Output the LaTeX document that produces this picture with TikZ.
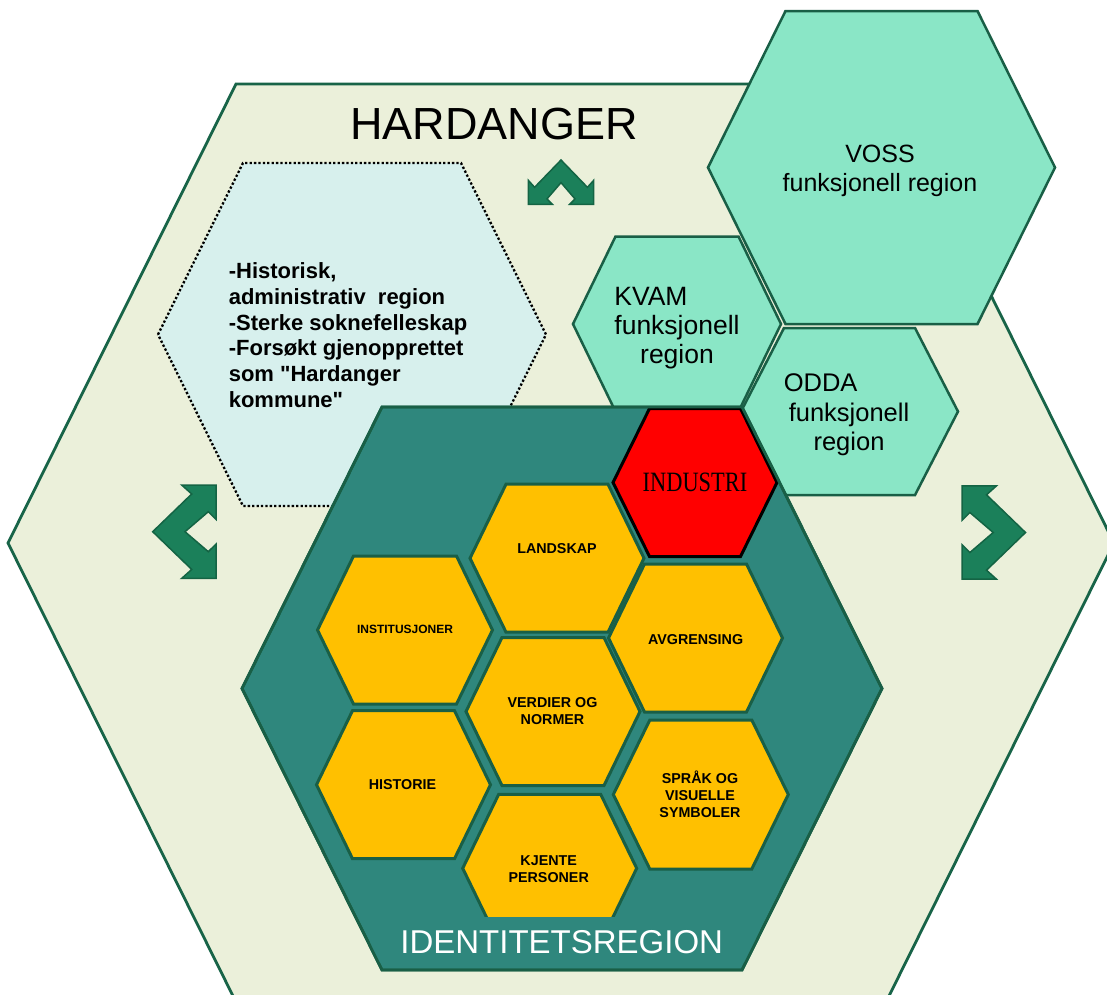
\documentclass[tikz,border=0pt]{standalone}
\usepackage{fontspec}
\setmainfont{Liberation Sans}
\newfontfamily\serifx{Liberation Serif}
\newcommand{\sq}{\XeTeXglyph\XeTeXcharglyph"22\relax}
\definecolor{bgc}{RGB}{235,240,218}
\definecolor{bgborder}{RGB}{24,100,72}
\definecolor{dotfill}{RGB}{215,240,237}
\definecolor{mintc}{RGB}{138,230,198}
\definecolor{tealc}{RGB}{47,135,125}
\definecolor{yellowc}{RGB}{255,192,0}
\definecolor{hexborder}{RGB}{25,95,70}
\definecolor{arrowfill}{RGB}{27,128,90}
\definecolor{arrowborder}{RGB}{20,100,68}
\newcommand{\hexp}[5]{({#1-#3},{#2}) -- ({#1-#4},{#2-#5}) -- ({#1+#4},{#2-#5}) -- ({#1+#3},{#2}) -- ({#1+#4},{#2+#5}) -- ({#1-#4},{#2+#5}) -- cycle}
\begin{document}
\begin{tikzpicture}[x=1pt,y=-1pt,
  bighex/.style={fill=bgc,draw=bgborder,line width=2.8pt,line join=miter},
  dothex/.style={fill=dotfill,draw=black,line width=2.3pt,dash pattern=on 2.3pt off 2.1pt},
  minthex/.style={fill=mintc,draw=hexborder,line width=2.5pt,line join=miter},
  tealhex/.style={fill=tealc,draw=hexborder,line width=2.8pt,line join=miter},
  yhex/.style={fill=yellowc,draw=hexborder,line width=3pt,line join=miter},
  redhex/.style={fill=red,draw=black,line width=3pt,line join=miter},
  arrowsty/.style={fill=arrowfill,draw=arrowborder,line width=1.5pt,line join=miter},
  ylab/.style={font=\bfseries\fontsize{14.3}{17}\selectfont,align=center,inner sep=0pt},
  mintlab/.style={align=center,inner sep=0pt}]
\clip (0,0) rectangle (1107,994);
\fill[white] (0,0) rectangle (1107,994);
% big Hardanger hexagon
\filldraw[bighex] \hexp{561}{543}{553}{325}{459};
\node[inner sep=0pt,font=\fontsize{45}{54}\selectfont] (hardanger) at (494,124) {HARDANGER};
% dotted hexagon
\filldraw[dothex] \hexp{352}{334.5}{194}{109}{171.5};
\node[anchor=west,align=left,inner sep=0pt,font=\bfseries\fontsize{22}{25.7}\selectfont] (hinfo) at (228.6,335)
  {-Historisk,\\administrativ\ \ region\\-Sterke soknefelleskap\\-Forsøkt gjenopprettet\\som \sq Hardanger\\kommune\sq};
% arrows
\draw[arrowsty] (561,160) -- (534.6,187.3) -- (528.3,180.3) -- (528.3,204.3) -- (552.3,204.3) -- (547,198.9) -- (561,182.6) -- (575,198.9) -- (569.7,204.3) -- (593.7,204.3) -- (593.7,180.3) -- (587.4,187.3) -- cycle;
\draw[arrowsty] (152.7,531.7) -- (191.7,494) -- (181.7,485) -- (216,485) -- (216,519.3) -- (208.3,511.7) -- (185,531.7) -- (208.3,551.7) -- (216,544.1) -- (216,578.4) -- (181.7,578.4) -- (191.7,569.4) -- cycle;
\draw[arrowsty] (1025.5,532.5) -- (986.5,494.8) -- (996.5,485.8) -- (962.2,485.8) -- (962.2,520.1) -- (969.9,512.5) -- (993.2,532.5) -- (969.9,552.5) -- (962.2,544.9) -- (962.2,579.2) -- (996.5,579.2) -- (986.5,570.2) -- cycle;
% functional regions
\filldraw[minthex] \hexp{881.5}{167.5}{173.5}{96}{156.5};
\node[mintlab,font=\fontsize{25}{29}\selectfont] (voss) at (880,171) {VOSS\\funksjonell region};
\filldraw[minthex] \hexp{677}{324}{104}{61.5}{87.5};
\node[mintlab,font=\fontsize{26.5}{29}\selectfont] (kvam) at (677,328.3) {\rlap{KVAM}\hphantom{funksjonell}\\funksjonell\\region};
\filldraw[minthex] \hexp{849.5}{411.5}{108.5}{65.5}{83.5};
\node[mintlab,font=\fontsize{25.5}{29.5}\selectfont] (odda) at (849,415) {\makebox[0pt][l]{\hspace{-5pt}ODDA}\hphantom{funksjonell}\\funksjonell\\region};
% identity region
\filldraw[tealhex] \hexp{562}{688.5}{320}{180}{281.5};
\filldraw[yhex] \hexp{557}{558.2}{87}{51}{74};
\filldraw[yhex] \hexp{405}{630}{87.5}{51.5}{74};
\filldraw[yhex] \hexp{695.5}{638}{87}{51}{74};
\filldraw[yhex] \hexp{553}{711.5}{87}{51}{74};
\filldraw[yhex] \hexp{403.5}{784.7}{87}{51}{74};
\filldraw[yhex] \hexp{700.8}{794.5}{87.5}{51}{74.5};
\filldraw[yhex] \hexp{549.7}{868.3}{87}{51}{74};
\filldraw[redhex] \hexp{695}{482.5}{82}{45.5}{74};
\begin{scope}
  \clip \hexp{562}{688.5}{320}{180}{281.5};
  \fill[tealc] (370,916.7) rectangle (760,962);
\end{scope}
\draw[tealhex,fill=none] \hexp{562}{688.5}{320}{180}{281.5};
% labels
\node[inner sep=0pt,font=\serifx\fontsize{28}{30}\selectfont] (industri) at (695,482) {\scalebox{0.8}[1]{INDUSTRI}};
\node[ylab] (landskap) at (557,549) {LANDSKAP};
\node[ylab,font=\bfseries\fontsize{12}{14}\selectfont] (inst) at (405,629.5) {INSTITUSJONER};
\node[ylab] (avgr) at (695.6,639.4) {AVGRENSING};
\node[ylab] (verdier) at (552.5,711.5) {VERDIER OG\\NORMER};
\node[ylab] (historie) at (402.5,784.5) {HISTORIE};
\node[ylab] (sprak) at (700,794.7) {SPRÅK OG\\VISUELLE\\SYMBOLER};
\node[ylab] (kjente) at (548.7,869) {KJENTE\\PERSONER};
\node[inner sep=0pt,text=white,font=\fontsize{33}{40}\selectfont] (idreg) at (561.7,941.7) {IDENTITETSREGION};
\end{tikzpicture}
\end{document}
